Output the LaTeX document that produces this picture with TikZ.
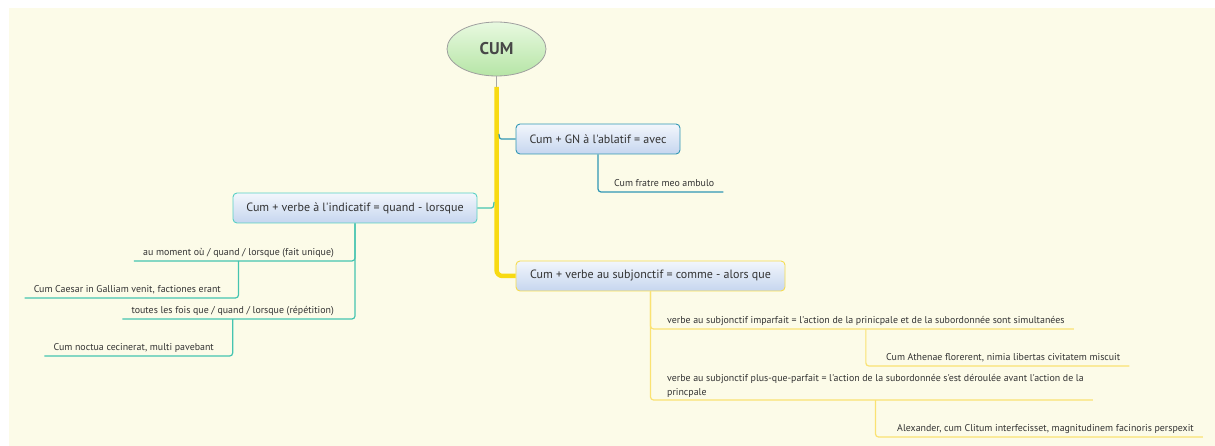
\documentclass[tikz,border=0pt]{standalone}
\usepackage{fontspec}
\setmainfont{PT Sans}[Ligatures=TeXOff]
\usetikzlibrary{shapes.geometric}
\definecolor{paper}{HTML}{FCFBE8}
\definecolor{trunkyellow}{HTML}{F8DA12}
\definecolor{twigyellow}{HTML}{FAE272}
\definecolor{boxyellow}{HTML}{F5DC50}
\definecolor{tealdark}{HTML}{3197B4}
\definecolor{tealturq}{HTML}{45C4B0}
\definecolor{boxturq}{HTML}{58D0C4}
\definecolor{boxtop}{HTML}{F2F6FC}
\definecolor{boxbottom}{HTML}{C6D6EF}
\definecolor{cumtop}{HTML}{E8F9E0}
\definecolor{cumbottom}{HTML}{B6E5A6}
\definecolor{ink}{HTML}{333333}
\tikzset{
  topic/.style={draw, rounded corners=4pt, line width=0.9pt, minimum height=30pt,
    top color=boxtop, bottom color=boxbottom, text=ink, inner xsep=0pt,
    font=\fontsize{12}{14}\selectfont},
  leaf/.style={inner xsep=9pt, inner ysep=3pt, text height=7pt, text depth=2pt,
    text=ink, font=\fontsize{9.9}{14}\selectfont},
  twig/.style={line width=1.2pt, rounded corners=3pt},
}
\begin{document}
\begin{tikzpicture}[x=1pt, y=-1pt]
  \useasboundingbox (0,0) rectangle (1215,446);
  \fill[paper] (9,8) rectangle (1215,446);

  \node[ellipse, draw=gray!75, line width=0.8pt, top color=cumtop, bottom color=cumbottom,
    minimum width=99pt, minimum height=54pt, text=ink!90,
    font=\bfseries\fontsize{17}{20}\selectfont] (cum) at (496.5,49) {CUM};

  \node[topic, draw=tealdark, minimum width=164pt] (ablatif) at (598,139) {Cum + GN à l'ablatif = avec};
  \node[topic, draw=boxturq, minimum width=244pt] (indicatif) at (355,208) {Cum + verbe à l'indicatif = quand - lorsque};
  \node[topic, draw=boxyellow, minimum width=269pt] (subjonctif) at (650.5,276) {Cum + verbe au subjonctif = comme - alors que};

  \node[leaf, anchor=south west] (fratre) at (605,192) {Cum fratre meo ambulo};
  \node[leaf, anchor=south east] (moment) at (343,261) {au moment où / quand / lorsque (fait unique)};
  \node[leaf, anchor=south east] (caesar) at (230,298) {Cum Caesar in Galliam venit, factiones erant};
  \node[leaf, anchor=south east] (toutes) at (343,319) {toutes les fois que / quand / lorsque (répétition)};
  \node[leaf, anchor=south east] (noctua) at (223,356) {Cum noctua cecinerat, multi pavebant};
  \node[leaf, anchor=south west] (imparfait) at (658,329) {verbe au subjonctif imparfait = l'action de la prinicpale et de la subordonnée sont simultanées};
  \node[leaf, anchor=south west] (athenae) at (877,366) {Cum Athenae florerent, nimia libertas civitatem miscuit};
  \node[leaf, anchor=south west, align=left, text height=, text depth=, inner ysep=2pt] (plusque) at (658,400)
    {verbe au subjonctif plus-que-parfait = l'action de la subordonnée s'est déroulée avant l'action de la\\princpale};
  \node[leaf, anchor=south west] (alexander) at (888,437) {Alexander, cum Clitum interfecisset, magnitudinem facinoris perspexit};

  \coordinate (t0) at (496.5,87);
  \coordinate (t1) at (499,134);
  \coordinate (t2) at (494,202);
  \draw[gray!70, line width=1pt] (cum.south) -- (t0);
  \draw[trunkyellow, line width=4.5pt, rounded corners=6pt] (t0) |- (subjonctif.west);
  \draw[tealdark, line width=1.2pt] (ablatif.west) -- ++(-12,0) .. controls +(-4,0) .. (t1);
  \draw[tealturq, line width=1.2pt] (indicatif.east) -- ++(12,0) .. controls +(4,0) .. (t2);

  \begin{scope}[twig]
    \draw[tealdark] (ablatif.south) |- (fratre.south east);
    \draw[tealturq] (indicatif.south) |- (moment.south west);
    \draw[tealturq] (indicatif.south) |- (toutes.south west);
    \draw[tealturq] (moment.south) |- (caesar.south west);
    \draw[tealturq] (toutes.south) |- (noctua.south west);
    \draw[twigyellow] (subjonctif.south) |- (imparfait.south east);
    \draw[twigyellow] (subjonctif.south) |- (plusque.south east);
    \draw[twigyellow] (imparfait.south) |- (athenae.south east);
    \draw[twigyellow] (plusque.south) |- (alexander.south east);
  \end{scope}
\end{tikzpicture}
\end{document}
